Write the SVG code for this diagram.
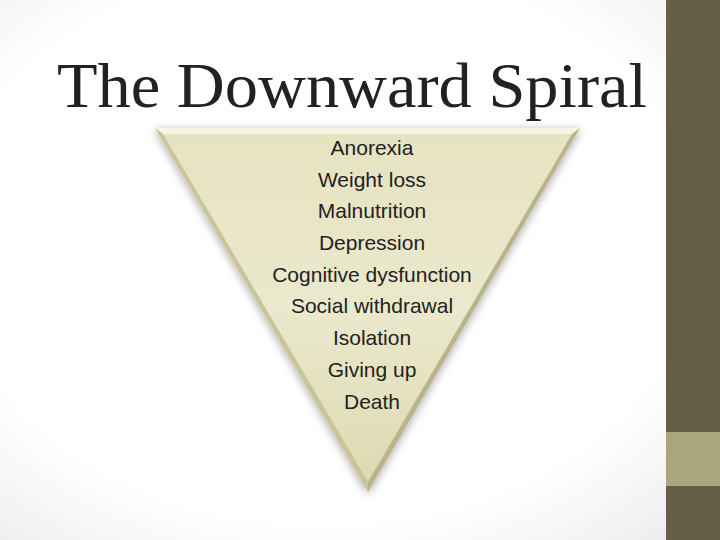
<svg xmlns="http://www.w3.org/2000/svg" width="720" height="540" viewBox="0 0 720 540">
<defs>
<radialGradient id="bg" cx="0.45" cy="0.45" r="0.8"><stop offset="0.65" stop-color="#ffffff"/><stop offset="1" stop-color="#e6e7e9"/></radialGradient>
<linearGradient id="tri" x1="0" y1="0" x2="0" y2="1"><stop offset="0" stop-color="#e6e3c0"/><stop offset="0.5" stop-color="#ebe9cd"/><stop offset="1" stop-color="#dcd8b0"/></linearGradient>
<filter id="sh" x="-20%" y="-20%" width="140%" height="140%"><feGaussianBlur in="SourceAlpha" stdDeviation="5"/><feOffset dx="0" dy="2"/><feComponentTransfer><feFuncA type="linear" slope="0.35"/></feComponentTransfer><feMerge><feMergeNode/><feMergeNode in="SourceGraphic"/></feMerge></filter>
<style>.t{font-family:"Liberation Sans",Arial,sans-serif;font-size:21px;fill:#222;text-anchor:middle}</style>
</defs>
<rect width="720" height="540" fill="url(#bg)"/>
<rect x="666" y="0" width="54" height="540" fill="#655e48"/>
<rect x="666" y="432" width="54" height="54" fill="#a9a57c"/>
<text x="352" y="107" font-family="'Liberation Serif',serif" font-size="64" fill="#222" text-anchor="middle" textLength="590" lengthAdjust="spacingAndGlyphs">The Downward Spiral</text>
<g id="triangle" filter="url(#sh)">
<polygon points="155,128 580,128 368,492" fill="url(#tri)"/>
<polygon points="155,128 580,128 572,134 163,134" fill="#f7f5e3"/>
<polygon points="155,128 163,134 368,482 368,492" fill="#c9c49a"/>
<polygon points="580,128 572,134 368,482 368,492" fill="#b9b48a"/>
</g>
<g id="labels">
<text class="t" x="372" y="155">Anorexia</text>
<text class="t" x="372" y="187">Weight loss</text>
<text class="t" x="372" y="218">Malnutrition</text>
<text class="t" x="372" y="250">Depression</text>
<text class="t" x="372" y="282">Cognitive dysfunction</text>
<text class="t" x="372" y="313">Social withdrawal</text>
<text class="t" x="372" y="345">Isolation</text>
<text class="t" x="372" y="377">Giving up</text>
<text class="t" x="372" y="409">Death</text>
</g>
</svg>
